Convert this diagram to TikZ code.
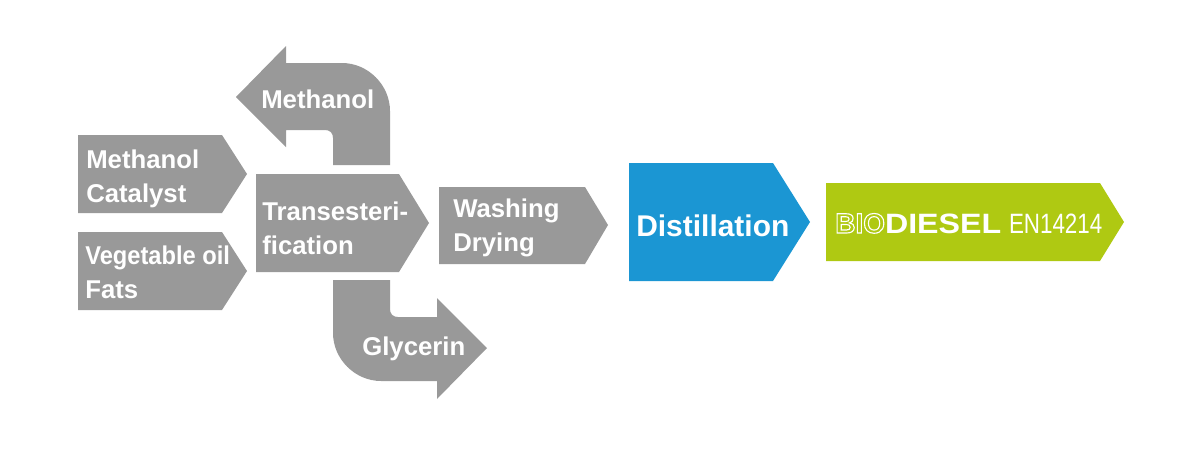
\documentclass[tikz,border=0pt]{standalone}
\usepackage{fontspec}
\setmainfont{Liberation Sans}
\newfontfamily\tightfont{Liberation Sans}[FakeStretch=0.92]
\newfontfamily\widefont{Liberation Sans}[FakeStretch=1.15]
\newfontfamily\narrowfont{Liberation Sans}[FakeStretch=0.8]
\newcommand{\outlinetext}[1]{\special{pdf:literal direct 1 Tr 0.8 w 1 1 1 RG}#1\special{pdf:literal direct 0 Tr}}
\definecolor{flowgray}{HTML}{999999}
\definecolor{distblue}{HTML}{1B96D3}
\definecolor{biogreen}{HTML}{AFC912}

\begin{document}
\begin{tikzpicture}[
    x=0.25mm, y=-0.25mm,
    every node/.style={text=white, inner sep=0pt, anchor=base west, align=left},
    flow/.style={fill=flowgray},
    flowtext/.style={font=\bfseries\fontsize{18.3}{23.5}\selectfont}
  ]
    \useasboundingbox (0,0) rectangle (1200,451);

    % Inputs
    \fill[flow] (78,135) -- (222,135) -- (247,174) -- (222,213) -- (78,213) -- cycle;
    \fill[flow] (78,232) -- (222,232) -- (247,271) -- (222,310) -- (78,310) -- cycle;

    % Reactor
    \fill[flow] (256,174) -- (399,174) -- (429,223) -- (399,272) -- (256,272) -- cycle;

    % Methanol recovery (bent arrow up and back)
    \fill[flow] (390,165) -- (390,111) .. controls (390,85) and (368,63) .. (342,63) -- (286,63) -- (286,46) -- (236,97) -- (286,147) -- (286,130) -- (325,130) .. controls (330,130) and (333,133) .. (333,138) -- (333,165) -- cycle;

    % Glycerin (bent arrow down and out)
    \fill[flow] (333,280) -- (390,280) -- (390,309) .. controls (390,314) and (393,317) .. (398,317) -- (437,317) -- (437,298) -- (487,348) -- (437,399) -- (437,381) -- (381,381) .. controls (355,381) and (333,359) .. (333,333) -- cycle;

    % Washing, distillation, product
    \fill[flow] (439,187) -- (585,187) -- (608,225) -- (585,264) -- (439,264) -- cycle;
    \fill[distblue] (629,163) -- (773,163) -- (810,222) -- (773,281) -- (629,281) -- cycle;
    \fill[biogreen] (826,183) -- (1100,183) -- (1124,222) -- (1100,261) -- (826,261) -- cycle;

    % Labels (base = last line)
    \node[flowtext] (methanolout) at (261,108) {Methanol};
    \node[flowtext] (catalyst) at (86,202) {Methanol\\Catalyst};
    \node[flowtext] (oil) at (85,298) {{\tightfont Vegetable oil}\\Fats};
    \node[flowtext] (transest) at (262,254) {Transesteri-\\fication};
    \node[flowtext] (glycerin) at (362,355) {Glycerin};
    \node[flowtext] (washing) at (453,251) {Washing\\Drying};
    \node[font=\bfseries\fontsize{21.3}{26}\selectfont] (distill) at (636,236) {Distillation};
    \node[font=\fontsize{19.9}{24}\selectfont] (biodiesel) at (835,233) {{\bfseries\outlinetext{BIO}}{\widefont\bfseries DIESEL} {\narrowfont EN14214}};

  \end{tikzpicture}
\end{document}
